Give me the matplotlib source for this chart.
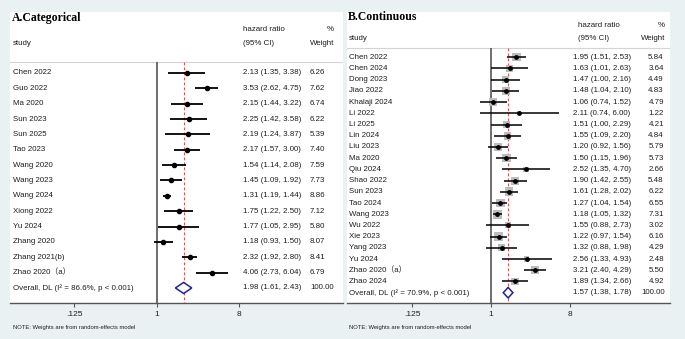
import matplotlib
matplotlib.use("Agg")
import matplotlib.pyplot as plt
import matplotlib.transforms as mtransforms
from matplotlib.ticker import NullLocator

plt.rcParams['font.family'] = ['Liberation Sans', 'Noto Sans CJK SC']

# A. Categorical
studies_a = ["Chen 2022", "Guo 2022", "Ma 2020", "Sun 2023", "Sun 2025", "Tao 2023",
             "Wang 2020", "Wang 2023", "Wang 2024", "Xiong 2022", "Yu 2024",
             "Zhang 2020", "Zhang 2021(b)", "Zhao 2020（a）"]
hr_a = [2.13, 3.53, 2.15, 2.25, 2.19, 2.17, 1.54, 1.45, 1.31, 1.75, 1.77, 1.18, 2.32, 4.06]
lo_a = [1.35, 2.62, 1.44, 1.42, 1.24, 1.57, 1.14, 1.09, 1.19, 1.22, 1.05, 0.93, 1.92, 2.73]
hi_a = [3.38, 4.75, 3.22, 3.58, 3.87, 3.00, 2.08, 1.92, 1.44, 2.50, 2.95, 1.50, 2.80, 6.04]
w_a = [6.26, 7.62, 6.74, 6.22, 5.39, 7.40, 7.59, 7.73, 8.86, 7.12, 5.80, 8.07, 8.41, 6.79]
overall_a = [1.98, 1.61, 2.43]
i2_a = 86.6

# B. Continuous
studies_b = ["Chen 2022", "Chen 2024", "Dong 2023", "Jiao 2022", "Khalaji 2024", "Li 2022",
             "Li 2025", "Lin 2024", "Liu 2023", "Ma 2020", "Qiu 2024", "Shao 2022",
             "Sun 2023", "Tao 2024", "Wang 2023", "Wu 2022", "Xie 2023", "Yang 2023",
             "Yu 2024", "Zhao 2020（a）", "Zhao 2024"]
hr_b = [1.95, 1.63, 1.47, 1.48, 1.06, 2.11, 1.51, 1.55, 1.20, 1.50, 2.52, 1.90, 1.61,
        1.27, 1.18, 1.55, 1.22, 1.32, 2.56, 3.21, 1.89]
lo_b = [1.51, 1.01, 1.00, 1.04, 0.74, 0.74, 1.00, 1.09, 0.92, 1.15, 1.35, 1.42, 1.28,
        1.04, 1.05, 0.88, 0.97, 0.88, 1.33, 2.40, 1.34]
hi_b = [2.53, 2.63, 2.16, 2.10, 1.52, 6.00, 2.29, 2.20, 1.56, 1.96, 4.70, 2.55, 2.02,
        1.54, 1.32, 2.73, 1.54, 1.98, 4.93, 4.29, 2.66]
w_b = [5.84, 3.64, 4.49, 4.83, 4.79, 1.22, 4.21, 4.84, 5.79, 5.73, 2.66, 5.48, 6.22,
       6.55, 7.31, 3.02, 6.16, 4.29, 2.48, 5.50, 4.92]
overall_b = [1.57, 1.38, 1.78]
i2_b = 70.9

xticks = [0.125, 1, 8]
xticklabels = [".125", "1", "8"]

bg = '#eaf1f3'
txt = '#1e1e1e'
W, H = 685, 339


def forest(rect, title, studies, hr, lo, hi, w, overall, i2, xl, yl, hdr, cols,
           box_scale, dot, lw, dh, note_xy):
    ax = fig.add_axes(rect)
    ax.set_facecolor('white')
    ax.set_xscale('log', base=2)
    ax.set_xlim(2 ** xl[0], 2 ** xl[1])
    ax.set_ylim(yl[1], yl[0])
    for s in ['top', 'left', 'right']:
        ax.spines[s].set_visible(False)
    ax.spines['bottom'].set_color('#555555')
    ax.spines['bottom'].set_linewidth(1.0)
    ax.set_yticks([])
    ax.set_xticks(xticks)
    ax.set_xticklabels(xticklabels)
    ax.xaxis.set_minor_locator(NullLocator())
    ax.tick_params(axis='x', direction='out', length=3, width=0.8, color='#555555',
                   labelsize=6, labelcolor=txt, pad=2.5)

    tr = mtransforms.blended_transform_factory(ax.transAxes, ax.transData)
    n = len(studies)
    rows = list(range(n))
    sep = hdr[3]

    # header
    ax.text(cols[0] - 0.002, hdr[0], title, transform=tr, family='Liberation Serif',
            weight='bold', fontsize=8.5, va='center', ha='left', color='black')
    ax.text(cols[1], hdr[1], "hazard ratio", transform=tr, fontsize=5.7, va='center', color=txt)
    ax.text(cols[4], hdr[1], "%", transform=tr, fontsize=5.7, va='center', ha='right', color=txt)
    ax.text(cols[0], hdr[2], "study", transform=tr, fontsize=5.7, va='center', color=txt)
    ax.text(cols[1], hdr[2], "(95% CI)", transform=tr, fontsize=5.7, va='center', color=txt)
    ax.text(cols[4], hdr[2], "Weight", transform=tr, fontsize=5.7, va='center', ha='right', color=txt)
    ax.axhline(sep, color='#d4d4d4', lw=0.8)

    # reference lines
    ax.vlines(1, sep, yl[1], color='#555555', lw=1.2)
    ax.vlines(overall[0], sep, yl[1], color='#d9534f', lw=0.8, linestyles=(0, (2.5, 2)))

    # studies
    if box_scale > 0:
        ax.scatter(hr, rows, marker='s', s=[box_scale * v for v in w], color='#bcbcbc',
                   edgecolors='none', zorder=3)
    ax.hlines(rows, lo, hi, color='black', lw=lw, zorder=4)
    ax.scatter(hr, rows, marker='o', s=dot, color='black', zorder=5)
    for i in rows:
        ax.text(cols[0], i, studies[i], transform=tr, fontsize=5.7, va='center', color=txt)
        ax.text(cols[2], i, f"{hr[i]:.2f} ({lo[i]:.2f}, {hi[i]:.2f})", transform=tr,
                fontsize=5.7, va='center', color=txt)
        ax.text(cols[3], i, f"{w[i]:.2f}", transform=tr, fontsize=5.7, va='center',
                ha='right', color=txt)

    # overall
    est, olo, ohi = overall
    ax.fill([olo, est, ohi, est, olo], [n, n - dh, n, n + dh, n], facecolor='white',
            edgecolor='#22228c', lw=1.1, zorder=5)
    ax.text(cols[0], n, f"Overall, DL (I² = {i2}%, p < 0.001)", transform=tr,
            fontsize=5.7, va='center', color=txt)
    ax.text(cols[2], n, f"{est:.2f} ({olo:.2f}, {ohi:.2f})", transform=tr,
            fontsize=5.7, va='center', color=txt)
    ax.text(cols[4], n, "100.00", transform=tr, fontsize=5.7, va='center', ha='right', color=txt)

    fig.text(note_xy[0] / W, 1 - note_xy[1] / H, "NOTE: Weights are from random-effects model",
             fontsize=4.2, va='center', color=txt)
    return ax


fig = plt.figure(figsize=(W / 100, H / 100), dpi=100)
fig.patch.set_facecolor(bg)

# panel A: plot region x 10..343 px, y 12..303 px
forest([10 / W, (H - 303) / H, 333 / W, 291 / H], "A.Categorical",
       studies_a, hr_a, lo_a, hi_a, w_a, overall_a, i2_a,
       xl=(-5.327, 6.78), yl=(-3.97, 14.98), hdr=(-3.58, -2.86, -1.95, -0.72),
       cols=(0.009, 0.70, 0.70, 0.946, 0.973), box_scale=0, dot=9, lw=1.3, dh=0.36,
       note_xy=(13, 327))

# panel B: plot region x 347..670 px, y 12..303 px
forest([347 / W, (H - 303) / H, 323 / W, 291 / H], "B.Continuous",
       studies_b, hr_b, lo_b, hi_b, w_b, overall_b, i2_b,
       xl=(-5.469, 6.798), yl=(-4.04, 21.92), hdr=(-3.6, -2.88, -1.72, -0.83),
       cols=(0.006, 0.715, 0.70, 0.981, 0.985), box_scale=6.3, dot=6, lw=1.1, dh=0.47,
       note_xy=(349, 328))

fig.savefig("out.png", dpi=100, facecolor=bg)
